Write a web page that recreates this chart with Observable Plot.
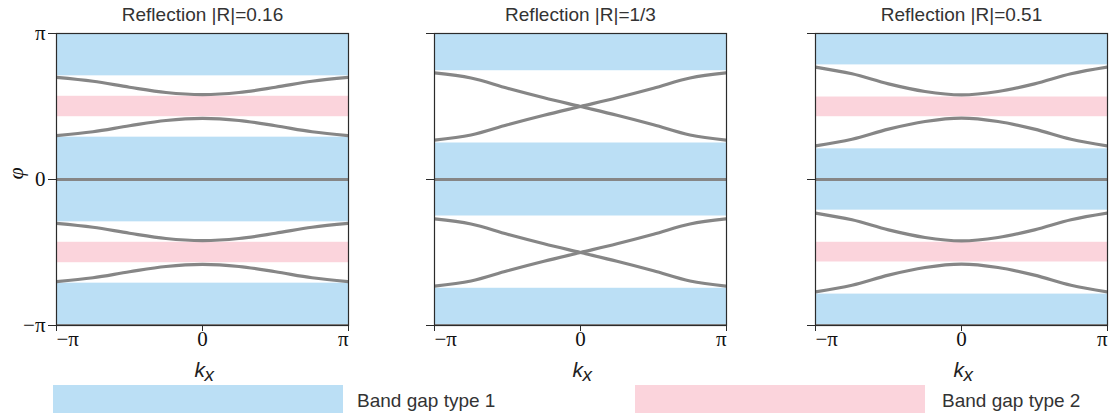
<!DOCTYPE html>
<html>
<head>
<meta charset="utf-8">
<script src="https://cdn.jsdelivr.net/npm/d3@7"></script>
<script src="https://cdn.jsdelivr.net/npm/@observablehq/plot@0.6"></script>
<style>
  html, body { margin: 0; padding: 0; background: #fff; }
  #wrap { position: relative; width: 1115px; height: 418px; overflow: hidden; font-family: "Liberation Sans", Arial, sans-serif; }
  .panel { position: absolute; top: 0; }
  .sw { position: absolute; height: 28px; }
  .lt { position: absolute; font-size: 19px; color: #333; line-height: 1; }
</style>
</head>
<body>
<div id="wrap"></div>
<script>
// ---- data (phase φ and wavevector kx in units of π) ----
const titles = ["Reflection |R|=0.16", "Reflection |R|=1/3", "Reflection |R|=0.51"];
const kx = [-1, -0.75, -0.5, -0.25, 0, 0.25, 0.5, 0.75, 1];

// band gap type 1 (blue) intervals [lo, hi]
const gap1_R016 = [[0.71, 1], [-0.29, 0.29], [-1, -0.71]];
const gap1_R033 = [[0.745, 1], [-0.25, 0.25], [-1, -0.745]];
const gap1_R051 = [[0.785, 1], [-0.21, 0.21], [-1, -0.785]];
// band gap type 2 (pink) intervals [lo, hi]
const gap2_R016 = [[0.43, 0.57], [-0.57, -0.43]];
const gap2_R033 = [];
const gap2_R051 = [[0.43, 0.565], [-0.565, -0.43]];

// dispersion branches φ(kx)
const bands_R016 = [
  [0.70, 0.673, 0.632, 0.596, 0.582, 0.596, 0.632, 0.673, 0.70],
  [0.30, 0.327, 0.368, 0.404, 0.418, 0.404, 0.368, 0.327, 0.30],
  [-0.30, -0.327, -0.368, -0.404, -0.418, -0.404, -0.368, -0.327, -0.30],
  [-0.70, -0.673, -0.632, -0.596, -0.582, -0.596, -0.632, -0.673, -0.70]
];
const bands_R033 = [
  [0.73, 0.695, 0.625, 0.56, 0.50, 0.44, 0.375, 0.305, 0.27],
  [0.27, 0.305, 0.375, 0.44, 0.50, 0.56, 0.625, 0.695, 0.73],
  [-0.27, -0.305, -0.375, -0.44, -0.50, -0.56, -0.625, -0.695, -0.73],
  [-0.73, -0.695, -0.625, -0.56, -0.50, -0.44, -0.375, -0.305, -0.27]
];
const bands_R051 = [
  [0.77, 0.724, 0.655, 0.603, 0.58, 0.603, 0.655, 0.724, 0.77],
  [0.23, 0.276, 0.345, 0.397, 0.42, 0.397, 0.345, 0.276, 0.23],
  [-0.23, -0.276, -0.345, -0.397, -0.42, -0.397, -0.345, -0.276, -0.23],
  [-0.77, -0.724, -0.655, -0.603, -0.58, -0.603, -0.655, -0.724, -0.77]
];
const flatBands = [0, -1];

const tickValues = [-1, 0, 1];
const xTickLabels = ["\u2212\u03c0", "0", "\u03c0"];
const yTickLabels = ["\u2212\u03c0", "0", "\u03c0"];
const legendLabels = ["Band gap type 1", "Band gap type 2"];

// ---- style ----
const BLUE = "#bbdff5", PINK = "#fbd4dc", GRAY = "#868686", FRAME = "#2b2b2b";
const SERIF = "'Liberation Serif', 'Times New Roman', serif";
const SANS = "'Liberation Sans', Arial, sans-serif";

const panels = [
  {title: titles[0], g1: gap1_R016, g2: gap2_R016, bands: bands_R016, left: 0, labels: true},
  {title: titles[1], g1: gap1_R033, g2: gap2_R033, bands: bands_R033, left: 378, labels: false},
  {title: titles[2], g1: gap1_R051, g2: gap2_R051, bands: bands_R051, left: 759, labels: false}
];

const wrap = document.getElementById("wrap");
const anchors = ["start", "middle", "end"];

panels.forEach(p => {
  const rows = [];
  p.bands.forEach((b, bi) => kx.forEach((k, j) => rows.push({k, phi: b[j], id: bi})));
  const marks = [
    Plot.rect(p.g1, {x1: () => kx[0], x2: () => kx[kx.length - 1], y1: d => d[0], y2: d => d[1], fill: BLUE}),
    Plot.rect(p.g2, {x1: () => kx[0], x2: () => kx[kx.length - 1], y1: d => d[0], y2: d => d[1], fill: PINK}),
    Plot.ruleY(flatBands, {y: d => d, stroke: GRAY, strokeWidth: 3.2, clip: true}),
    Plot.line(rows, {x: "k", y: "phi", z: "id", stroke: GRAY, strokeWidth: 3.2, curve: "monotone-x", clip: true}),
    Plot.frame({stroke: FRAME, strokeWidth: 1.2}),
    Plot.axisY(tickValues, {tickSize: 8, tickFormat: () => "", label: null, stroke: FRAME}),
    Plot.axisX(tickValues, {tickSize: 6, tickFormat: () => "", label: null, stroke: FRAME}),
    Plot.text([p.title], {frameAnchor: "top", dy: -13, lineAnchor: "bottom", fontSize: 19, fontFamily: SANS, fill: "#333"}),
    Plot.text(["k"], {frameAnchor: "bottom", dy: 51, dx: -8, lineAnchor: "bottom", textAnchor: "start", fontSize: 21, fontStyle: "italic", fontFamily: SANS, fill: "#222"}),
    Plot.text(["x"], {frameAnchor: "bottom", dy: 55, dx: 2, lineAnchor: "bottom", textAnchor: "start", fontSize: 19, fontStyle: "italic", fontFamily: SANS, fill: "#222"})
  ];
  tickValues.forEach((v, i) => {
    marks.push(Plot.text([v], {x: d => d, text: () => xTickLabels[i], frameAnchor: "bottom", dy: 20, textAnchor: anchors[i], fontSize: 21, fontFamily: SERIF, fill: "#111"}));
  });
  if (p.labels) {
    marks.push(Plot.text(tickValues, {y: d => d, text: (d, i) => yTickLabels[i], frameAnchor: "left", dx: -11, textAnchor: "end", fontSize: 21, fontFamily: SERIF, fill: "#111"}));
    marks.push(Plot.text(["\u03c6"], {frameAnchor: "left", dx: -41, rotate: -90, fontSize: 22, fontStyle: "italic", fontFamily: SERIF, fill: "#111"}));
  }
  const svg = Plot.plot({
    width: 356, height: 385,
    marginLeft: 56, marginRight: 8, marginTop: 33, marginBottom: 60,
    x: {domain: [-1, 1], axis: null},
    y: {domain: [-1, 1], axis: null},
    style: {background: "transparent", overflow: "visible", fontFamily: SANS},
    marks
  });
  svg.classList.add("panel");
  svg.style.left = p.left + "px";
  wrap.appendChild(svg);
});

// legend
const legend = [
  {label: legendLabels[0], color: BLUE, x: 53, w: 290, tx: 357},
  {label: legendLabels[1], color: PINK, x: 635, w: 290, tx: 942}
];
legend.forEach(l => {
  const sw = document.createElement("div");
  sw.className = "sw";
  sw.style.left = l.x + "px"; sw.style.top = "385px"; sw.style.width = l.w + "px"; sw.style.background = l.color;
  wrap.appendChild(sw);
  const t = document.createElement("div");
  t.className = "lt";
  t.style.left = l.tx + "px"; t.style.top = "391px";
  t.textContent = l.label;
  wrap.appendChild(t);
});
</script>
</body>
</html>
